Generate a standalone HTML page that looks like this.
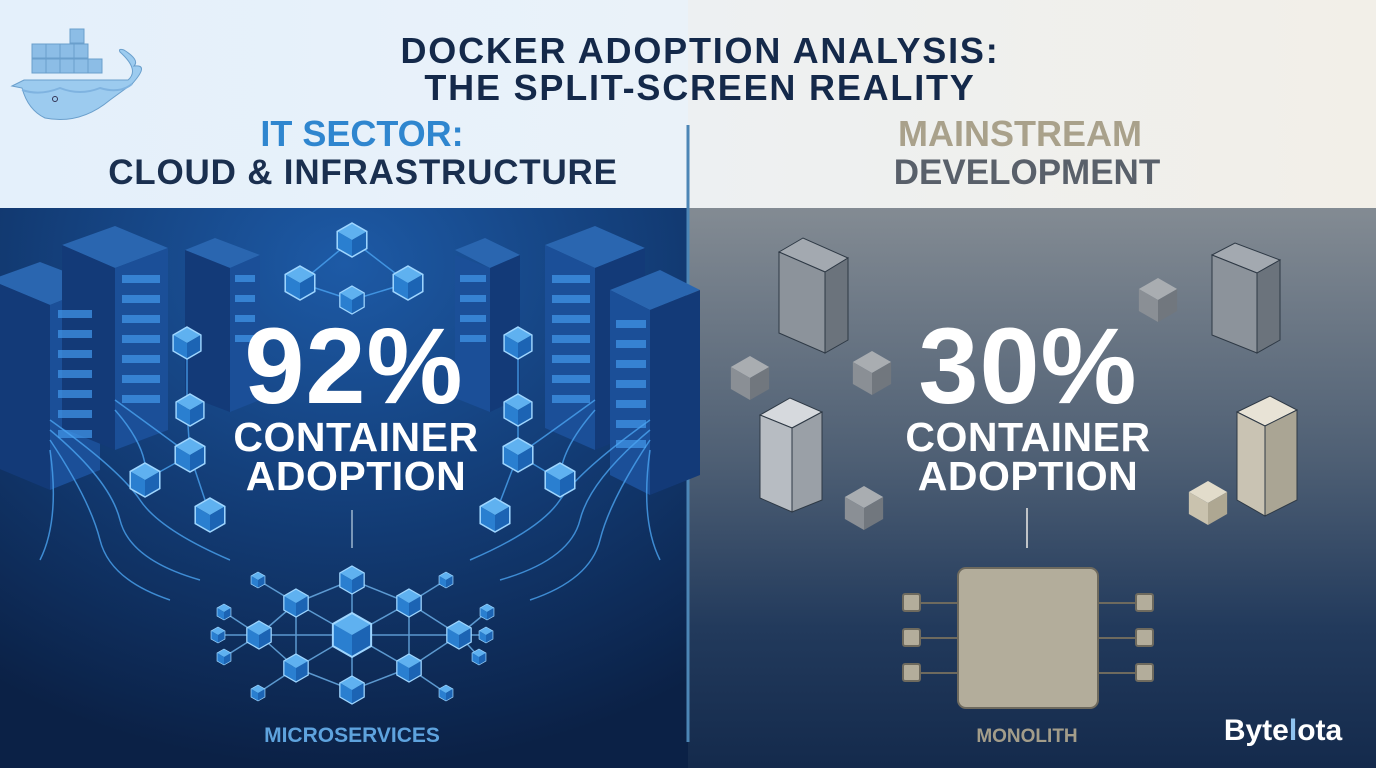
<!DOCTYPE html>
<html><head><meta charset="utf-8"><style>
html,body{margin:0;padding:0;background:#0c2348}
svg{display:block}
text{font-family:"Liberation Sans",sans-serif;font-weight:bold}
</style></head><body>
<svg width="1376" height="768" viewBox="0 0 1376 768" xmlns="http://www.w3.org/2000/svg">
<defs>
<linearGradient id="hl" x1="0" x2="1"><stop offset="0" stop-color="#e4f0fb"/><stop offset="1" stop-color="#eaf2f9"/></linearGradient>
<linearGradient id="hr" x1="0" x2="1"><stop offset="0" stop-color="#edf0f2"/><stop offset="1" stop-color="#f2efe8"/></linearGradient>
<radialGradient id="bl" cx="0.5" cy="0.1" r="0.9"><stop offset="0" stop-color="#1d5aa6"/><stop offset="0.55" stop-color="#123a72"/><stop offset="1" stop-color="#0b2146"/></radialGradient>
<linearGradient id="br" x1="0" y1="0" x2="0" y2="1"><stop offset="0" stop-color="#838b93"/><stop offset="0.45" stop-color="#4e5f74"/><stop offset="0.75" stop-color="#223a5c"/><stop offset="1" stop-color="#142a4c"/></linearGradient>
<g id="cb"><polygon points="0,-1 0.87,-0.5 0,0 -0.87,-0.5" fill="#5fb1f0"/><polygon points="-0.87,-0.5 0,0 0,1 -0.87,0.5" fill="#2a7fd0"/><polygon points="0,0 0.87,-0.5 0.87,0.5 0,1" fill="#1c64b4"/><polygon points="0,-1 0.87,-0.5 0.87,0.5 0,1 -0.87,0.5 -0.87,-0.5" fill="none" stroke="#9fd6ff" stroke-width="0.09"/></g>
<g id="gc"><polygon points="0,-1 0.87,-0.5 0,0 -0.87,-0.5" fill="#a9adb1"/><polygon points="-0.87,-0.5 0,0 0,1 -0.87,0.5" fill="#8a8f95"/><polygon points="0,0 0.87,-0.5 0.87,0.5 0,1" fill="#71777e"/></g>
</defs>
<rect x="0" y="0" width="688" height="208" fill="url(#hl)"/>
<rect x="688" y="0" width="688" height="208" fill="url(#hr)"/>
<rect x="0" y="208" width="688" height="560" fill="url(#bl)"/>
<rect x="688" y="208" width="688" height="560" fill="url(#br)"/>
<g fill="#8cbde6" stroke="#6a9fcc" stroke-width="1">
<rect x="70" y="29" width="14" height="14"/><rect x="32" y="44" width="14" height="14"/><rect x="46" y="44" width="14" height="14"/><rect x="60" y="44" width="14" height="14"/><rect x="74" y="44" width="14" height="14"/>
<rect x="32" y="59" width="14" height="14"/><rect x="46" y="59" width="14" height="14"/><rect x="60" y="59" width="14" height="14"/><rect x="74" y="59" width="14" height="14"/><rect x="88" y="59" width="14" height="14"/>
</g>
<path d="M12,86 L24,80 L128,80 Q140,70 120,52 Q118,48 124,50 Q140,60 134,66 Q150,64 132,84 L110,100 Q80,125 45,118 Q28,110 22,88 Z" fill="#9ccbef" stroke="#6a9fcc"/>
<path d="M22,90 Q40,96 60,88 Q80,96 100,88 Q120,94 132,84" fill="none" stroke="#7fb3e0" stroke-width="2"/>
<circle cx="55" cy="99" r="2.5" fill="none" stroke="#335"/>
<g fill="#14294a" font-size="36" text-anchor="middle" letter-spacing="1.8"><text x="700" y="63">DOCKER ADOPTION ANALYSIS:</text><text x="700" y="100">THE SPLIT-SCREEN REALITY</text></g>
<text x="362" y="146" font-size="36" fill="#2f86cf" text-anchor="middle">IT SECTOR:</text>
<text x="363" y="184" font-size="35" fill="#1a2f4f" text-anchor="middle" letter-spacing="0.8">CLOUD &amp; INFRASTRUCTURE</text>
<text x="1020" y="146" font-size="36" fill="#a9a18b" text-anchor="middle">MAINSTREAM</text>
<text x="1027" y="184" font-size="35" fill="#59606a" text-anchor="middle">DEVELOPMENT</text>
<line x1="688" y1="125" x2="688" y2="742" stroke="#4c86b6" stroke-width="3"/>
<g>
<polygon points="-10,280 40,262 100,285 50,305" fill="#2a66b0"/><polygon points="50,305 100,285 100,470 50,490" fill="#1b4f98"/><polygon points="-10,280 50,305 50,490 -10,465" fill="#133a78"/>
<polygon points="62,245 115,226 168,248 115,268" fill="#2a66b0"/><polygon points="115,268 168,248 168,430 115,450" fill="#1b4f98"/><polygon points="62,245 115,268 115,450 62,428" fill="#133a78"/>
<polygon points="185,250 215,238 260,255 230,268" fill="#2a66b0"/><polygon points="230,268 260,255 260,400 230,412" fill="#1b4f98"/><polygon points="185,250 230,268 230,412 185,395" fill="#133a78"/>
<polygon points="455,250 485,238 520,255 490,268" fill="#2a66b0"/><polygon points="455,255 490,268 490,412 455,398" fill="#1b4f98"/><polygon points="490,268 520,255 520,398 490,412" fill="#133a78"/>
<polygon points="545,245 595,226 645,248 595,268" fill="#2a66b0"/><polygon points="545,245 595,268 595,450 545,428" fill="#1b4f98"/><polygon points="595,268 645,248 645,430 595,450" fill="#133a78"/>
<polygon points="610,290 660,270 700,290 650,310" fill="#2a66b0"/><polygon points="610,290 650,310 650,495 610,475" fill="#1b4f98"/><polygon points="650,310 700,290 700,475 650,495" fill="#133a78"/>
<g fill="#3f93e6" opacity="0.75">
<rect x="58" y="310" width="34" height="8"/><rect x="58" y="330" width="34" height="8"/><rect x="58" y="350" width="34" height="8"/><rect x="58" y="370" width="34" height="8"/><rect x="58" y="390" width="34" height="8"/><rect x="58" y="410" width="34" height="8"/><rect x="58" y="430" width="34" height="8"/>
<rect x="122" y="275" width="38" height="8"/><rect x="122" y="295" width="38" height="8"/><rect x="122" y="315" width="38" height="8"/><rect x="122" y="335" width="38" height="8"/><rect x="122" y="355" width="38" height="8"/><rect x="122" y="375" width="38" height="8"/><rect x="122" y="395" width="38" height="8"/>
<rect x="235" y="275" width="20" height="7"/><rect x="235" y="295" width="20" height="7"/><rect x="235" y="315" width="20" height="7"/><rect x="235" y="335" width="20" height="7"/>
<rect x="460" y="275" width="26" height="7"/><rect x="460" y="295" width="26" height="7"/><rect x="460" y="315" width="26" height="7"/><rect x="460" y="335" width="26" height="7"/>
<rect x="552" y="275" width="38" height="8"/><rect x="552" y="295" width="38" height="8"/><rect x="552" y="315" width="38" height="8"/><rect x="552" y="335" width="38" height="8"/><rect x="552" y="355" width="38" height="8"/><rect x="552" y="375" width="38" height="8"/><rect x="552" y="395" width="38" height="8"/>
<rect x="616" y="320" width="30" height="8"/><rect x="616" y="340" width="30" height="8"/><rect x="616" y="360" width="30" height="8"/><rect x="616" y="380" width="30" height="8"/><rect x="616" y="400" width="30" height="8"/><rect x="616" y="420" width="30" height="8"/><rect x="616" y="440" width="30" height="8"/>
</g>
<g fill="none" stroke="#4aa3f0" stroke-width="1.5" opacity="0.8">
<path d="M50,420 Q120,470 140,500 T230,560"/><path d="M50,430 Q110,480 120,520 T200,580"/><path d="M50,440 Q90,500 100,540 T170,600"/><path d="M50,450 Q60,520 40,560"/><path d="M115,400 Q170,440 190,455"/><path d="M115,410 Q150,450 145,480"/>
<path d="M650,420 Q580,470 560,500 T470,560"/><path d="M650,430 Q590,480 580,520 T500,580"/><path d="M650,440 Q610,500 600,540 T530,600"/><path d="M650,450 Q640,520 660,560"/><path d="M595,400 Q540,440 518,455"/><path d="M595,410 Q560,450 560,480"/>
<path d="M352,240 L300,283 M352,240 L408,283 M300,283 L352,300 M408,283 L352,300 M187,343 L187,410 L190,455 L145,480 M190,455 L210,515 M518,343 L518,410 L518,455 L560,480 M518,455 L495,515"/>
</g>
<use href="#cb" transform="translate(352,240) scale(17)"/><use href="#cb" transform="translate(300,283) scale(17)"/><use href="#cb" transform="translate(408,283) scale(17)"/><use href="#cb" transform="translate(352,300) scale(14)"/>
<use href="#cb" transform="translate(187,343) scale(16)"/><use href="#cb" transform="translate(190,410) scale(16)"/><use href="#cb" transform="translate(190,455) scale(17)"/><use href="#cb" transform="translate(145,480) scale(17)"/><use href="#cb" transform="translate(210,515) scale(17)"/>
<use href="#cb" transform="translate(518,343) scale(16)"/><use href="#cb" transform="translate(518,410) scale(16)"/><use href="#cb" transform="translate(518,455) scale(17)"/><use href="#cb" transform="translate(560,480) scale(17)"/><use href="#cb" transform="translate(495,515) scale(17)"/>
</g>
<g fill="#ffffff" text-anchor="middle">
<text x="354" y="403" font-size="108" letter-spacing="1">92%</text>
<text x="356" y="451" font-size="41" letter-spacing="0.5">CONTAINER</text>
<text x="356" y="490" font-size="41" letter-spacing="0.5">ADOPTION</text>
</g>
<line x1="352" y1="510" x2="352" y2="548" stroke="#7a97b8" stroke-width="2"/>
<g stroke="#6fb4ec" stroke-width="1.5" opacity="0.8" fill="none">
<path d="M352,635 L296,603 M352,635 L409,603 M352,635 L296,668 M352,635 L409,668 M352,580 L352,690 M296,603 L352,580 L409,603 M296,668 L352,690 L409,668 M259,635 L459,635 M296,603 L296,668 M409,603 L409,668 M259,635 L296,603 M259,635 L296,668 M459,635 L409,603 M459,635 L409,668 M258,580 L296,603 M446,580 L409,603 M258,693 L296,668 M446,693 L409,668 M224,612 L259,635 M218,635 L259,635 M224,657 L259,635 M487,612 L459,635 M486,635 L459,635 M479,657 L459,635"/>
</g>
<use href="#cb" transform="translate(352,635) scale(22)"/>
<use href="#cb" transform="translate(296,603) scale(14)"/><use href="#cb" transform="translate(409,603) scale(14)"/><use href="#cb" transform="translate(296,668) scale(14)"/><use href="#cb" transform="translate(409,668) scale(14)"/>
<use href="#cb" transform="translate(352,580) scale(14)"/><use href="#cb" transform="translate(352,690) scale(14)"/><use href="#cb" transform="translate(259,635) scale(14)"/><use href="#cb" transform="translate(459,635) scale(14)"/>
<use href="#cb" transform="translate(258,580) scale(8)"/><use href="#cb" transform="translate(446,580) scale(8)"/><use href="#cb" transform="translate(224,612) scale(8)"/><use href="#cb" transform="translate(218,635) scale(8)"/><use href="#cb" transform="translate(224,657) scale(8)"/>
<use href="#cb" transform="translate(487,612) scale(8)"/><use href="#cb" transform="translate(486,635) scale(8)"/><use href="#cb" transform="translate(479,657) scale(8)"/><use href="#cb" transform="translate(258,693) scale(8)"/><use href="#cb" transform="translate(446,693) scale(8)"/>
<text x="352" y="742" font-size="21" fill="#5ea3de" text-anchor="middle">MICROSERVICES</text>
<g stroke="#2e3945" stroke-width="1">
<polygon points="779,252 803,238 848,258 825,272" fill="#a3a9b0"/><polygon points="779,252 825,272 825,353 779,333" fill="#8c939b"/><polygon points="825,272 848,258 848,340 825,353" fill="#6b737c"/>
<polygon points="1212,255 1235,243 1280,260 1257,273" fill="#a3a9b0"/><polygon points="1212,255 1257,273 1257,353 1212,335" fill="#8c939b"/><polygon points="1257,273 1280,260 1280,340 1257,353" fill="#6b737c"/>
<polygon points="760,415 790,398 822,412 792,428" fill="#d6d9dd"/><polygon points="760,415 792,428 792,512 760,498" fill="#b7bcc2"/><polygon points="792,428 822,412 822,500 792,512" fill="#9aa0a7"/>
<polygon points="1237,412 1270,396 1297,410 1265,426" fill="#e8e3d6"/><polygon points="1237,412 1265,426 1265,516 1237,500" fill="#c9c3b3"/><polygon points="1265,426 1297,410 1297,500 1265,516" fill="#aaa594"/>
</g>
<use href="#gc" transform="translate(1158,300) scale(22)"/><use href="#gc" transform="translate(750,378) scale(22)"/><use href="#gc" transform="translate(872,373) scale(22)"/><use href="#gc" transform="translate(864,508) scale(22)"/>
<g transform="translate(1208,503) scale(22)"><polygon points="0,-1 0.87,-0.5 0,0 -0.87,-0.5" fill="#e2dccb"/><polygon points="-0.87,-0.5 0,0 0,1 -0.87,0.5" fill="#c9c2ae"/><polygon points="0,0 0.87,-0.5 0.87,0.5 0,1" fill="#aea792"/></g>
<g fill="#ffffff" text-anchor="middle">
<text x="1028" y="403" font-size="108" letter-spacing="1">30%</text>
<text x="1028" y="451" font-size="41" letter-spacing="0.5">CONTAINER</text>
<text x="1028" y="490" font-size="41" letter-spacing="0.5">ADOPTION</text>
</g>
<line x1="1027" y1="508" x2="1027" y2="548" stroke="#c0c4c8" stroke-width="2"/>
<g stroke="#6e6a5e" stroke-width="2" fill="#b3ad9b">
<line x1="918" y1="603" x2="958" y2="603"/><line x1="918" y1="638" x2="958" y2="638"/><line x1="918" y1="673" x2="958" y2="673"/>
<line x1="1098" y1="603" x2="1138" y2="603"/><line x1="1098" y1="638" x2="1138" y2="638"/><line x1="1098" y1="673" x2="1138" y2="673"/>
<rect x="903" y="594" width="17" height="17" rx="2"/><rect x="903" y="629" width="17" height="17" rx="2"/><rect x="903" y="664" width="17" height="17" rx="2"/>
<rect x="1136" y="594" width="17" height="17" rx="2"/><rect x="1136" y="629" width="17" height="17" rx="2"/><rect x="1136" y="664" width="17" height="17" rx="2"/>
<rect x="958" y="568" width="140" height="140" rx="8"/>
</g>
<text x="1027" y="742" font-size="19" fill="#a39d8a" text-anchor="middle">MONOLITH</text>
<text x="1283" y="740" font-size="30" fill="#ffffff" text-anchor="middle" font-weight="normal">Byte<tspan fill="#8fc3ef">l</tspan>ota</text>
</svg>
</body></html>
